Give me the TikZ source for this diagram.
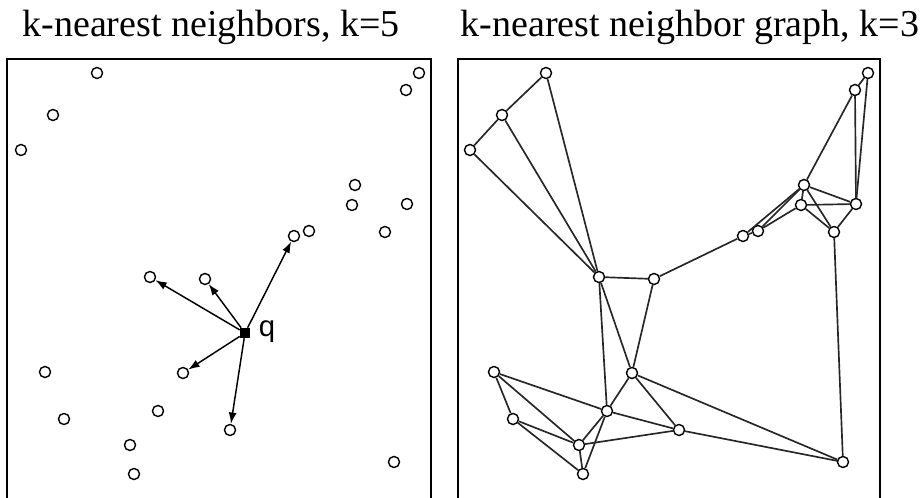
\documentclass[tikz,border=0pt]{standalone}
\usepackage{fontspec}
\setmainfont{Liberation Serif}
\newfontfamily\qfont{Liberation Sans}
\usetikzlibrary{arrows.meta, positioning}
\tikzset{
  pt/.style     = {circle, draw=black, fill=white, line width=1.05pt,
                   minimum size=8.3pt, inner sep=0pt},
  qpt/.style    = {rectangle, fill=black, minimum size=7.5pt, inner sep=0pt},
  arrow/.style  = {-{Latex[length=8.5pt, width=6pt]}, line width=1.1pt},
  edge/.style   = {line width=1.25pt, black!85},
  panel/.style  = {line width=2pt},
  ttl/.style    = {font=\fontsize{28.5}{30}\selectfont, anchor=base},
}
\begin{document}
\begin{tikzpicture}[x=0.75pt, y=-0.75pt]
  \useasboundingbox (0,0) rectangle (922,498);
  % titles and panels
  \node[ttl] (tleft) at (211,37) {k-nearest neighbors, k=5};
  \node[ttl] (tright) at (690,37) {k-nearest neighbor graph, k=3};
  \draw[panel] (7,59) rectangle (431,499);
  \draw[panel] (458,59) rectangle (880,499);
  % nodes
  \foreach \i/\x/\y in {a/97/73, b/53/115, c/21/150, d/419/73, e/406/90,
      f/355/185, g/352/205, h/407/204, i/385/232, j/294/236, k/309/231,
      l/150/277, m/205/279, n/183/373, o/45/372, p/64/419, r/158/411,
      s/230/430, t/130/445, u/134/474, w/394/462} {
    \node[pt] (L\i) at (\x,\y) {};
    \node[pt] (R\i) at (\x+449,\y) {};
  }
  % query point and its 5 neighbours
  \node[qpt] (q) at (245,333) {};
  \node[right=3pt of q, yshift=1pt, font=\qfont\fontsize{22}{22}\selectfont] (qlabel) {q};
  \foreach \nd in {l,m,j,n,s} {
    \draw[arrow] (q) -- (L\nd);
  }
  % 3-nn graph
  \foreach \u/\v in {a/b, b/c, a/l, b/l, c/l, l/m, l/r, l/n, m/n, m/j,
      j/k, j/f, k/f, k/g, f/g, f/h, f/i, g/h, g/i, h/i, f/e, e/d, e/h,
      d/h, i/w, w/n, w/s, n/r, n/s, r/s, r/t, r/u, r/o, o/p, o/t, p/t,
      p/u, t/u, t/s} {
    \draw[edge] (R\u) -- (R\v);
  }
\end{tikzpicture}
\end{document}
